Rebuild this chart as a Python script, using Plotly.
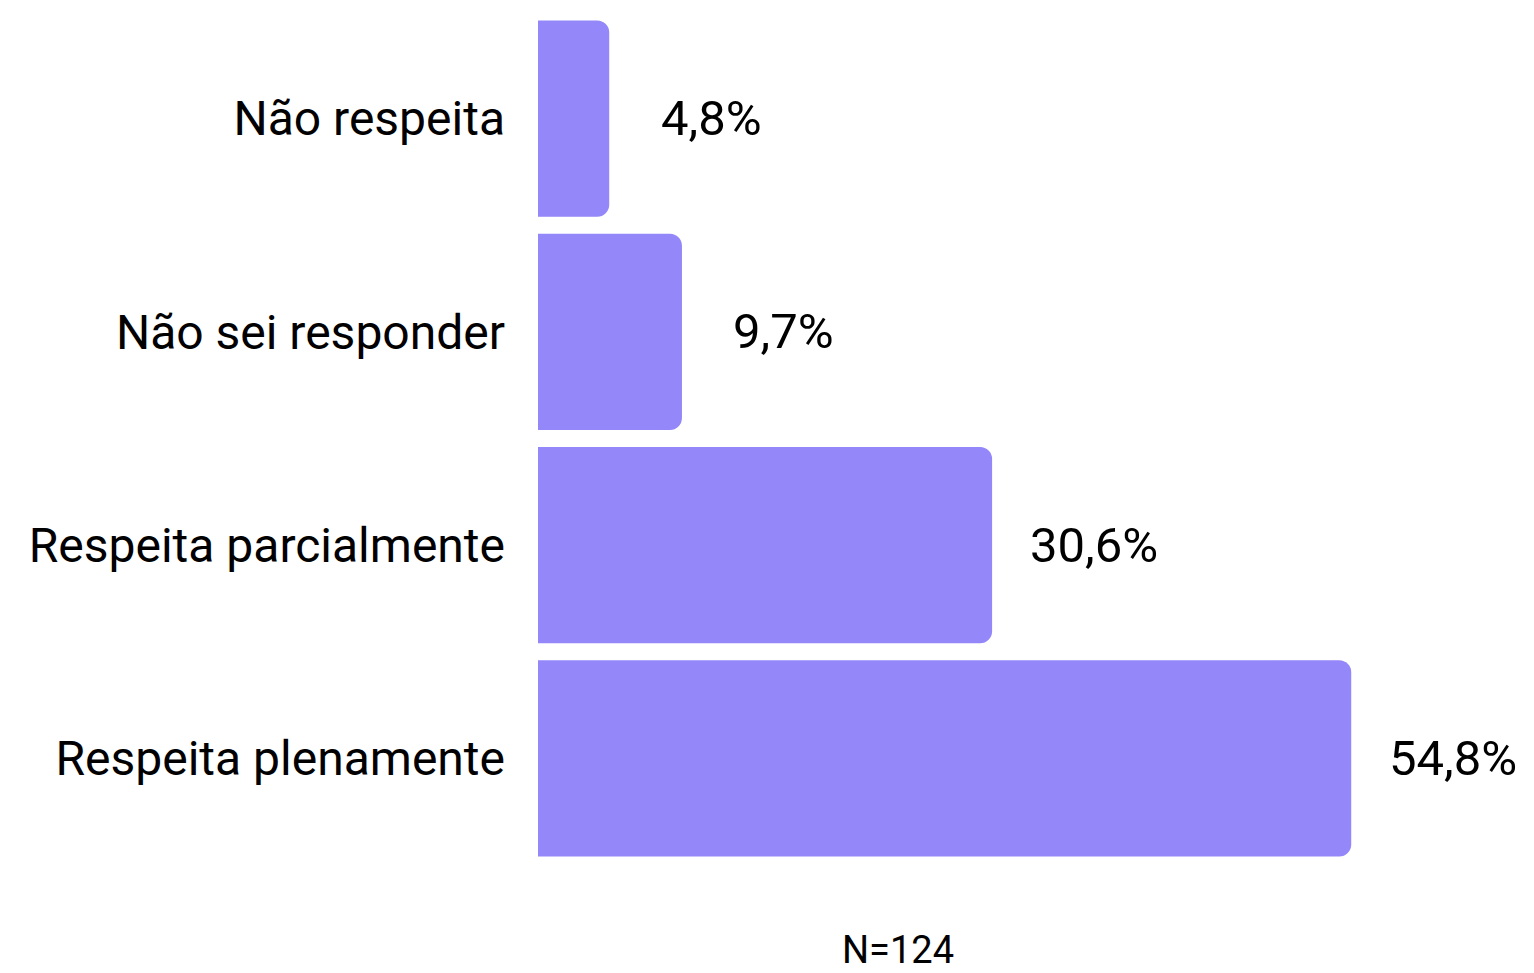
import plotly.graph_objects as go

categories = ["Não respeita", "Não sei responder", "Respeita parcialmente", "Respeita plenamente"]
values = [4.8, 9.7, 30.6, 54.8]
labels = ["4,8%", "9,7%", "30,6%", "54,8%"]
note = "N=124"

BAR_COLOR = "#9387F9"
FONT = "Roboto"

# page has an 8px body margin; figure coordinates are offset by it
W, H = 1534, 973
ML, MR, MT, MB = 530, 0, 4, 116
px_per_unit = 14.84
plot_w = W - ML - MR
plot_h = H - MT - MB
xmax = plot_w / px_per_unit

fig = go.Figure(go.Bar(
    x=values, y=categories, orientation="h",
    marker=dict(color=BAR_COLOR, line=dict(width=0), cornerradius=12),
    hoverinfo="skip",
))

for v, c, t in zip(values, categories, labels):
    fig.add_annotation(x=v, y=c, text=t, showarrow=False, xanchor="center",
                       xshift=102, font=dict(family=FONT, size=49, color="#000000"))

fig.add_annotation(x=(890 - ML) / plot_w, y=-(942 - (H - MB)) / plot_h,
                   xref="paper", yref="paper", text=note, showarrow=False,
                   xanchor="center", yanchor="middle",
                   font=dict(family=FONT, size=38, color="#000000"))

fig.update_layout(
    width=W, height=H,
    margin=dict(l=ML, r=MR, t=MT, b=MB),
    paper_bgcolor="white", plot_bgcolor="white",
    bargap=0.079,
    showlegend=False,
    font=dict(family=FONT, color="#000000"),
)
fig.update_xaxes(range=[0, xmax], visible=False, fixedrange=True)
fig.update_yaxes(autorange="reversed", showgrid=False, zeroline=False, showline=False,
                 ticks="", ticklabelstandoff=32,
                 tickfont=dict(family=FONT, size=48, color="#000000"))

fig.write_html("out.html")
